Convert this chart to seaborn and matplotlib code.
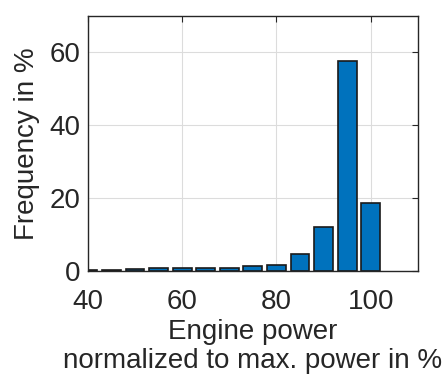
import matplotlib
matplotlib.use("Agg")
import matplotlib.pyplot as plt
import seaborn as sns
import pandas as pd

power = [40, 45, 50, 55, 60, 65, 70, 75, 80, 85, 90, 95, 100]
freq = [0.4, 0.3, 0.6, 0.7, 0.9, 0.9, 0.7, 1.4, 1.6, 4.7, 12.0, 57.7, 18.7]
xticks = [40, 60, 80, 100]
yticks = [0, 20, 40, 60]

sns.set_style("white")
plt.rcParams['font.family'] = ['Liberation Sans', 'DejaVu Sans']
txt = '#262626'

df = pd.DataFrame({"power": power, "freq": freq})
fig = plt.figure(figsize=(4.48, 3.78), dpi=100)
ax = fig.add_axes([0.196, 0.283, 0.737, 0.675])
sns.barplot(data=df, x="power", y="freq", native_scale=True, width=0.8,
            color="#0072BD", saturation=1, edgecolor="#1a1a1a", linewidth=1.2, ax=ax)
ax.set_xlim(40, 110)
ax.set_ylim(0, 70)
ax.set_xticks(xticks)
ax.set_yticks(yticks)
ax.grid(True, color="#dcdcdc", linewidth=0.8)
ax.set_axisbelow(True)
for s in ax.spines.values():
    s.set_color('#262626')
    s.set_linewidth(1.0)
ax.tick_params(direction='in', length=4, width=0.8, top=True, right=True,
               labelsize=20, colors=txt)
ax.tick_params(axis='x', pad=13)
ax.tick_params(axis='y', pad=5)
ax.set_xlabel("Engine power\nnormalized to max. power in %", fontsize=20, color=txt,
              labelpad=3, linespacing=1.12)
ax.set_ylabel("Frequency in %", fontsize=20, color=txt, labelpad=7)
fig.savefig("out.png", dpi=100)
